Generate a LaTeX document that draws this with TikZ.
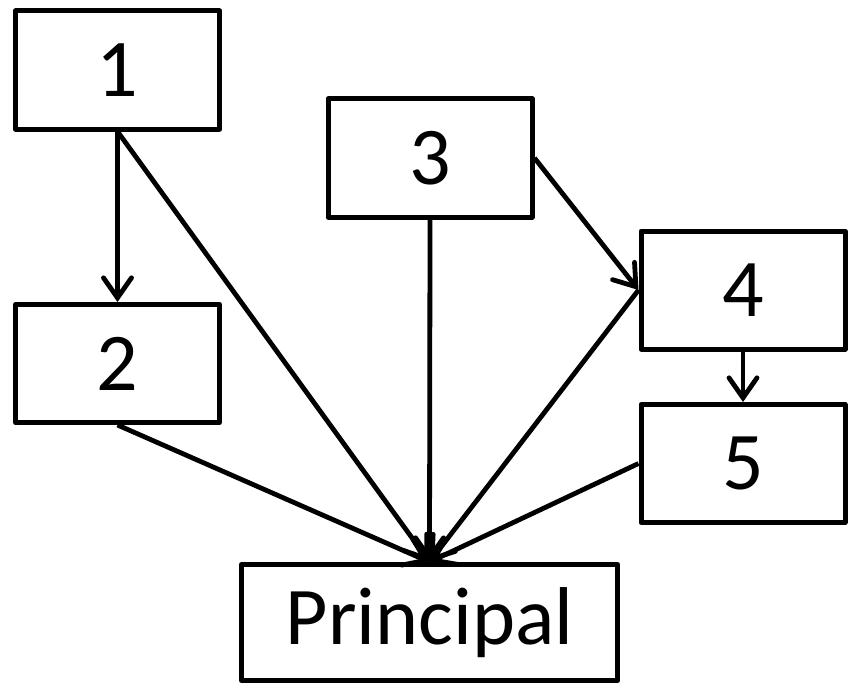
\documentclass[tikz,border=0pt]{standalone}
\usepackage{fontspec}
\setmainfont{Carlito}
\usetikzlibrary{arrows.meta, positioning}

\begin{document}
\begin{tikzpicture}[x=0.5pt, y=-0.5pt, line width=2.5pt, line join=round,
    box/.style={draw, line width=2.5pt, inner sep=0pt, minimum width=102pt, minimum height=59pt, font=\fontsize{41}{49}\selectfont},
    link/.style={line width=2.4pt, -{Straight Barb[length=10pt, width=14pt, line cap=round]}}]
          \useasboundingbox (0,0) rectangle (861,690);
          % boxes
          \node[box] (one) at (117.5,70) {1};
          \node[box] (two) at (117.5,363.5) {2};
          \node[box] (three) at (430,158) {3};
          \node[box] (four) at (743,290) {4};
          \node[box] (five) at (743,463.5) {5};
          \node[box, minimum width=188pt, minimum height=58pt] (main) at (429.5,622.5) {Principal};
          % links
          \draw[link] (one.south) -- (two.north);
          \draw[link] (three.east) -- (four.west);
          \draw[link] (four.south) -- (five.north);
          \foreach \src in {one.south, two.south, three.south, four.west, five.west}
            \draw[link] (\src) -- (main.north);
        \end{tikzpicture}
\end{document}
